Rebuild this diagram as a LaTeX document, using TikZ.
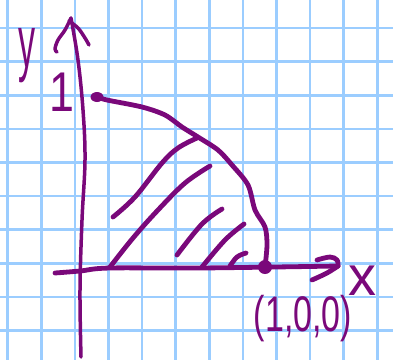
\documentclass[tikz,border=0pt]{standalone}
\usepackage{fontspec}
\setmainfont{Liberation Sans}
\usepackage{graphicx}
\usetikzlibrary{shapes.geometric}
\definecolor{pur}{RGB}{122,8,122}
\definecolor{gridblue}{RGB}{155,205,255}
\begin{document}
\begin{tikzpicture}[x=1pt,y=-1pt,
  gridl/.style={draw=gridblue,line width=2.6pt},
  pen/.style={draw=pur,line width=4.8pt,line cap=round,line join=round},
  thinpen/.style={draw=pur,line width=3.5pt,line cap=round,line join=round},
  dotstyle/.style={fill=pur,inner sep=0pt},
  lbl/.style={text=pur,inner sep=0pt}]
\useasboundingbox (0,0) rectangle (393,360);
\fill[white] (0,0) rectangle (393,360);
% grid paper
\foreach \i in {0,...,11} \draw[gridl] ({7.6+33.6*\i},0) -- ({7.6+33.6*\i},360);
\foreach \j in {0,...,9} \draw[gridl] (0,{28+33.6*\j}) -- (393,{28+33.6*\j});
% named points
\coordinate (ytop) at (71,18);
\coordinate (ybot) at (81,357);
\coordinate (xleft) at (55,273);
\coordinate (xtip) at (338,266);
\coordinate (p1) at (97,97);
\coordinate (p2) at (265,267);
% y axis
\draw[thinpen] plot[smooth,tension=0.6] coordinates {(ybot) (80,290) (82,220) (85,160) (83,110) (78,60) (ytop)};
\draw[thinpen] plot[smooth,tension=0.6] coordinates {(57,52) (55,49) (58,40) (65,30) (ytop)};
\draw[thinpen] plot[smooth,tension=0.6] coordinates {(69,21) (78,28) (85,38) (89,45)};
% x axis
\draw[pen] plot[smooth,tension=0.6] coordinates {(xleft) (80,271) (110,268) (200,268) (xtip)};
\draw[pen] plot[smooth,tension=0.6] coordinates {(317,260) (330,257) (337,260) (xtip)};
\draw[pen] plot[smooth,tension=0.6] coordinates {(xtip) (327,273) (312,280)};
% boundary curve
\draw[pen] plot[smooth,tension=0.5] coordinates {(p1) (107,100) (142,107) (165,115) (182,127) (198,137) (218,150) (232,165) (248,185) (255,210) (265,227) (267,245) (p2)};
% hatching
\draw[pen] plot[smooth,tension=0.6] coordinates {(113,217) (135,197) (162,163) (178,148) (197,138)};
\draw[pen] plot[smooth,tension=0.6] coordinates {(110,267) (133,238) (158,210) (185,183) (210,166)};
\draw[pen] plot[smooth,tension=0.6] coordinates {(177,255) (202,224) (222,209)};
\draw[pen] plot[smooth,tension=0.6] coordinates {(202,267) (225,240) (244,224)};
\draw[pen] plot[smooth,tension=0.6] coordinates {(230,266) (237,257) (246,253)};
% dots
\node[dotstyle,ellipse,minimum width=13pt,minimum height=10pt] (d1) at (p1) {};
\node[dotstyle,circle,minimum size=14pt] (d2) at (p2) {};
% labels
\node[lbl,anchor=base] (ylab) at (27,67) {\fontsize{74}{74}\selectfont\scalebox{0.46}[1]{y}};
\node[lbl] (onelab) at (62,92) {\fontsize{56}{56}\selectfont\scalebox{0.8}[1]{1}};
\node[lbl] (xlab) at (362,281) {\fontsize{56}{56}\selectfont x};
\node[lbl] (ptlab) at (303,319) {\fontsize{50}{50}\selectfont\scalebox{0.68}[1]{(1,0,0)}};
\end{tikzpicture}
\end{document}
